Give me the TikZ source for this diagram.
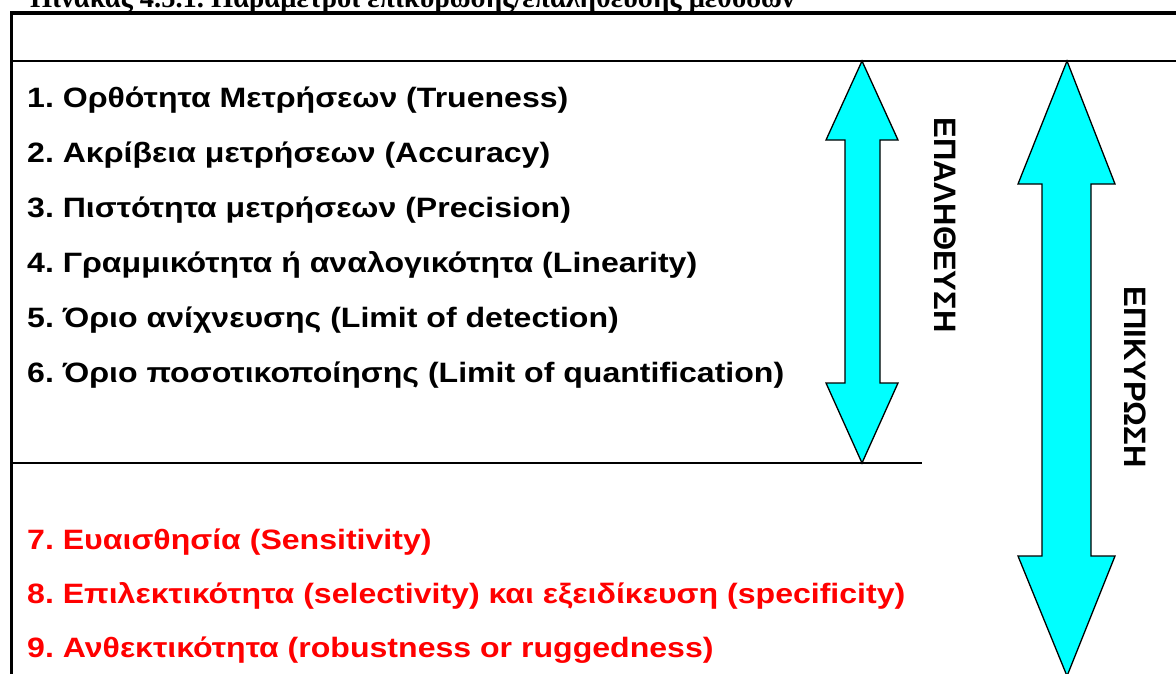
\documentclass[tikz,border=0pt]{standalone}
\usepackage{fontspec}
\setmainfont{Liberation Sans}
\newfontfamily\captionfont{Liberation Serif}
\usetikzlibrary{positioning}
\definecolor{aqua}{RGB}{0,255,255}
\frenchspacing

\tikzset{
  item/.style={anchor=base west,inner sep=0pt,xscale=1.145,font=\bfseries\fontsize{28}{30}\selectfont},
  warn/.style={item,text=red},
  sidelabel/.style={rotate=-90,inner sep=0pt,font=\bfseries\fontsize{31}{34}\selectfont},
  blockarrow/.style={draw=black,line width=1.3pt,fill=aqua,line join=miter}
}

\begin{document}
\begin{tikzpicture}[x=1pt,y=-1pt]
  \useasboundingbox (0,0) rectangle (1176,673);
  \clip (0,0) rectangle (1176,673);

  % caption, cut off at the top edge
  \node[anchor=base west,inner sep=0pt,font=\captionfont\bfseries\fontsize{28.5}{30}\selectfont] (caption) at (30,7)
    {Πίνακας 4.5.1. Παράμετροι επικύρωσης/επαλήθευσης μεθόδων};

  % table frame
  \draw[line width=3.5pt] (11.5,680) -- (11.5,13) -- (1180,13);
  \draw[line width=2pt] (13,61) -- (1180,61);
  \draw[line width=1.5pt] (13,463) -- (922,463);

  \node[item] (item1) at (27,107) {1. Ορθότητα Μετρήσεων (Trueness)};
  \node[item] (item2) at (27,162) {2. Ακρίβεια μετρήσεων (Accuracy)};
  \node[item] (item3) at (27,217) {3. Πιστότητα μετρήσεων (Precision)};
  \node[item] (item4) at (27,272) {4. Γραμμικότητα ή αναλογικότητα (Linearity)};
  \node[item] (item5) at (27,327) {5. Όριο ανίχνευσης (Limit of detection)};
  \node[item] (item6) at (27,382) {6. Όριο ποσοτικοποίησης (Limit of quantification)};

  \node[warn] (item7) at (27,549) {7. Ευαισθησία (Sensitivity)};
  \node[warn] (item8) at (27,603) {8. Επιλεκτικότητα (selectivity) και εξειδίκευση (specificity)};
  \node[warn] (item9) at (27,657) {9. Ανθεκτικότητα (robustness or ruggedness)};

  % double arrows
  \draw[blockarrow] (862,61) -- (898,140) -- (880,140) -- (880,383) -- (898,383)
    -- (862,463) -- (826,383) -- (845,383) -- (845,140) -- (826,140) -- cycle;
  \draw[blockarrow] (1067,61) -- (1115,184) -- (1091,184) -- (1091,556) -- (1115,556)
    -- (1067,676) -- (1018,556) -- (1042,556) -- (1042,184) -- (1018,184) -- cycle;

  \node[sidelabel] (verify) at (945,225) {ΕΠΑΛΗΘΕΥΣΗ};
  \node[sidelabel] (validate) at (1135,377) {ΕΠΙΚΥΡΩΣΗ};
\end{tikzpicture}
\end{document}
